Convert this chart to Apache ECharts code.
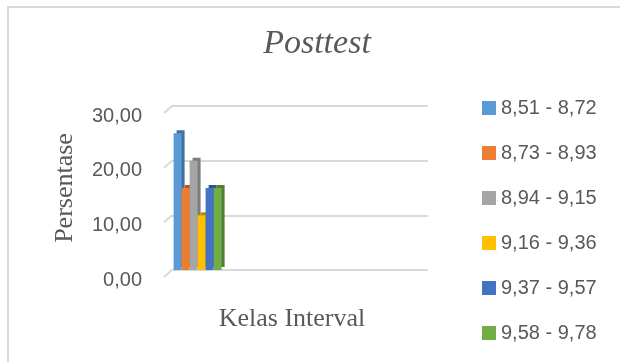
<!DOCTYPE html>
<html>
<head>
<meta charset="utf-8">
<script src="https://cdn.jsdelivr.net/npm/echarts@6/dist/echarts.min.js"></script>
<style>
  html, body { margin: 0; padding: 0; background: #ffffff; }
  #chart { width: 620px; height: 362px; }
</style>
</head>
<body>
<div id="chart"></div>
<script>
// Frequency distribution of posttest scores (percent per class interval)
const categories = ['Posttest', '', '', '', ''];
const seriesNames = ['8,51 - 8,72', '8,73 - 8,93', '8,94 - 9,15', '9,16 - 9,36', '9,37 - 9,57', '9,58 - 9,78'];
const seriesValues = [25, 15, 20, 10, 15, 15];
const yTicks = [0, 10, 20, 30];

const faceColors = ['#5B9BD5', '#ED7D31', '#A5A5A5', '#FFC000', '#4472C4', '#70AD47'];
const sideColors = ['#41719C', '#AE5A21', '#7C7C7C', '#BC8C00', '#2F528F', '#507E32'];

const chart = echarts.init(document.getElementById('chart'));

const series = seriesNames.map((name, i) => ({
  name: name,
  type: 'bar',
  barWidth: 8,
  barGap: '0%',
  data: categories.map((c, j) => (j === 0 ? seriesValues[i] : '-')),
  itemStyle: {
    color: faceColors[i],
    // extruded side/top face
    shadowColor: sideColors[i],
    shadowBlur: 0,
    shadowOffsetX: 3,
    shadowOffsetY: -3
  },
  z: 3 + i
}));

chart.setOption({
  animation: false,
  backgroundColor: '#ffffff',
  title: {
    text: 'Posttest',
    left: 312,
    top: 22,
    textAlign: 'center',
    textStyle: {
      fontFamily: 'Liberation Serif',
      fontStyle: 'italic',
      fontWeight: 'normal',
      fontSize: 34,
      color: '#595959'
    }
  },
  legend: {
    orient: 'vertical',
    left: 477,
    top: 93,
    height: 300,
    itemWidth: 14,
    itemHeight: 14,
    itemGap: 25,
    icon: 'rect',
    textStyle: {
      fontFamily: 'Liberation Sans',
      fontSize: 20,
      color: '#595959'
    },
    data: seriesNames
  },
  grid: {
    left: 172,
    right: 192,
    top: 106,
    bottom: 92,
    containLabel: false
  },
  xAxis: {
    type: 'category',
    data: categories,
    name: 'Kelas Interval',
    nameLocation: 'middle',
    nameGap: 36,
    nameTextStyle: {
      fontFamily: 'Liberation Serif',
      fontSize: 26,
      color: '#595959',
      padding: [0, 16, 0, 0]
    },
    axisLine: { show: false },
    axisTick: { show: false },
    axisLabel: { show: false },
    splitLine: { show: false }
  },
  yAxis: {
    type: 'value',
    min: yTicks[0],
    max: yTicks[yTicks.length - 1],
    interval: 10,
    name: 'Persentase',
    nameLocation: 'middle',
    nameGap: 94,
    nameTextStyle: {
      fontFamily: 'Liberation Serif',
      fontSize: 26,
      color: '#595959'
    },
    axisLine: { show: false },
    axisTick: { show: false },
    axisLabel: {
      margin: 30,
      fontFamily: 'Liberation Sans',
      fontSize: 20,
      color: '#595959',
      verticalAlign: 'top',
      formatter: v => v.toFixed(2).replace('.', ',')
    },
    splitLine: { lineStyle: { color: '#d9d9d9', width: 2 } }
  },
  series: series
});

// Outer chart frame plus the perspective stubs at the left end of each gridline
function drawDecor() {
  const elements = [{
    type: 'rect',
    shape: { x: 8, y: 7, width: 700, height: 420 },
    style: { fill: 'none', stroke: '#d9d9d9', lineWidth: 2 },
    silent: true,
    z: 0
  }];
  const x0 = chart.convertToPixel({ gridIndex: 0 }, [categories[0], 0])[0] - 25.6;
  yTicks.forEach(t => {
    const y = chart.convertToPixel({ yAxisIndex: 0 }, t);
    elements.push({
      type: 'line',
      shape: { x1: x0, y1: y, x2: x0 - 8, y2: y + 7 },
      style: { stroke: '#d9d9d9', lineWidth: 2 },
      silent: true,
      z: 1
    });
  });
  chart.setOption({ graphic: elements });
}
drawDecor();
</script>
</body>
</html>
